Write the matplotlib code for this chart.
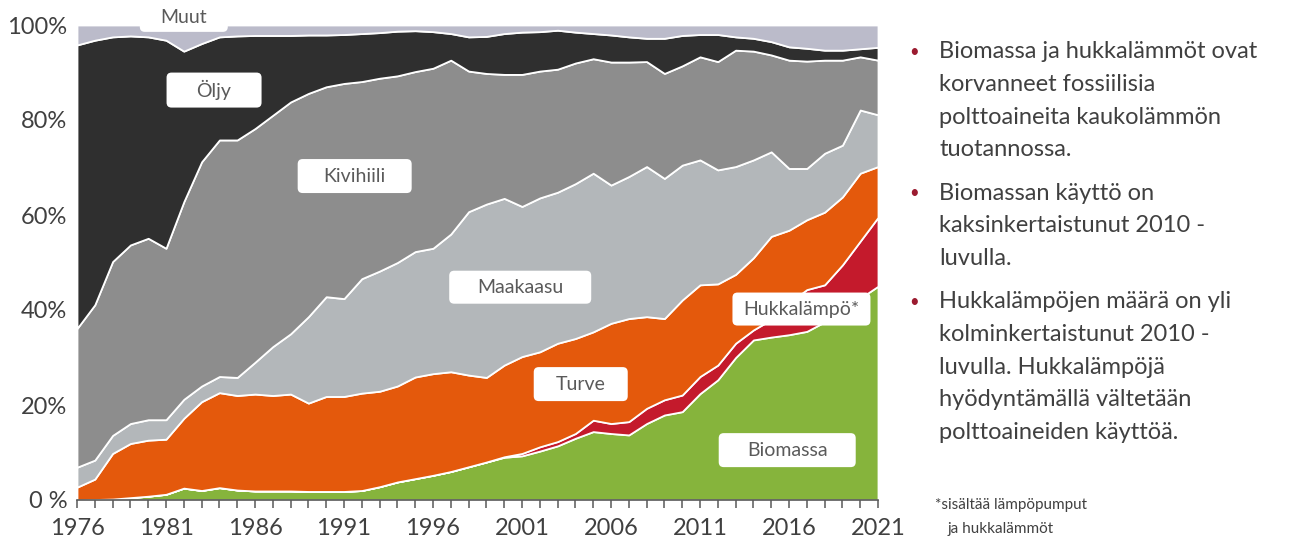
import matplotlib
matplotlib.use("Agg")
import matplotlib.pyplot as plt
from matplotlib.ticker import MultipleLocator, FixedLocator
from matplotlib.patches import FancyBboxPatch
from matplotlib.transforms import IdentityTransform

plt.rcParams['font.family'] = ['Lato', 'DejaVu Sans']

years = list(range(1976, 2022))

# Shares of district heat production by fuel, % (bottom to top of the stack)
biomassa = [0.0, 0.1, 0.2, 0.5, 0.8, 1.2, 2.5, 2.0, 2.6, 2.1,
            1.9, 1.9, 1.9, 1.8, 1.8, 1.8, 2.0, 2.8, 3.8, 4.5,
            5.2, 6.0, 7.0, 8.0, 9.0, 9.3, 10.3, 11.4, 13.0, 14.4,
            14.0, 13.7, 16.1, 17.9, 18.6, 22.4, 25.3, 30.0, 33.7, 34.3,
            34.8, 35.5, 37.5, 40.0, 42.5, 45.0]
hukkalampo = [0.0] * 24 + [0.1, 0.5, 0.9, 0.9, 1.0, 2.4,
              2.1, 2.8, 3.2, 3.2, 3.5, 3.6, 3.1, 3.0, 2.1, 3.7,
              6.7, 8.8, 7.8, 9.5, 12.0, 14.5]
turve = [2.7, 4.3, 9.6, 11.4, 11.8, 11.6, 14.7, 18.7, 20.0, 19.9,
         20.4, 20.1, 20.4, 18.6, 20.0, 20.0, 20.5, 20.1, 20.2, 21.4,
         21.4, 21.0, 19.3, 17.8, 19.3, 20.4, 20.0, 20.7, 20.0, 18.6,
         21.1, 21.7, 19.3, 17.1, 20.0, 19.3, 17.1, 14.5, 15.2, 17.5,
         15.3, 14.7, 15.3, 14.3, 14.3, 10.7]
maakaasu = [4.2, 4.0, 3.8, 4.2, 4.3, 4.1, 4.0, 3.3, 3.4, 3.8,
            6.7, 10.3, 12.7, 18.2, 21.0, 20.6, 24.1, 25.3, 26.0, 26.4,
            26.4, 29.0, 34.4, 36.5, 35.1, 31.6, 32.4, 31.8, 32.6, 33.4,
            29.1, 29.9, 31.6, 29.5, 28.4, 26.3, 24.0, 22.7, 20.6, 17.8,
            13.0, 10.8, 12.4, 10.9, 13.3, 10.9]
kivihiili = [29.2, 32.7, 36.6, 37.6, 38.2, 36.1, 41.6, 47.2, 49.8, 50.0,
             49.2, 48.7, 48.8, 47.0, 44.2, 45.3, 41.5, 40.6, 39.3, 37.9,
             37.9, 36.6, 29.6, 27.5, 26.1, 27.8, 26.7, 25.9, 25.4, 24.1,
             25.9, 24.1, 22.1, 22.1, 20.9, 21.7, 22.8, 24.5, 22.9, 20.4,
             22.8, 22.6, 19.6, 17.9, 11.2, 11.5]
oljy = [59.7, 55.7, 47.3, 44.0, 42.4, 43.8, 31.7, 24.9, 21.7, 21.9,
        19.6, 16.8, 14.0, 12.3, 10.9, 10.3, 10.1, 9.6, 9.4, 8.6,
        7.7, 5.6, 7.2, 7.8, 8.6, 8.9, 8.3, 8.2, 6.5, 5.3,
        5.7, 5.3, 4.9, 7.4, 6.4, 4.7, 5.7, 2.8, 2.7, 2.8,
        2.8, 2.7, 2.1, 2.1, 1.7, 2.7]
muut = [4.2, 3.2, 2.5, 2.3, 2.5, 3.2, 5.5, 3.9, 2.5, 2.3,
        2.2, 2.2, 2.2, 2.1, 2.1, 2.0, 1.8, 1.6, 1.3, 1.2,
        1.4, 1.8, 2.5, 2.4, 1.8, 1.5, 1.4, 1.1, 1.5, 1.8,
        2.1, 2.5, 2.8, 2.8, 2.2, 2.0, 2.0, 2.5, 2.8, 3.5,
        4.6, 4.9, 5.3, 5.3, 5.0, 4.7]

series_names = ["Biomassa", "Hukkalämpö*", "Turve", "Maakaasu",
                "Kivihiili", "Öljy", "Muut"]
series_colors = ["#86b43c", "#c41a2c", "#e4590c", "#b3b7ba",
                 "#8d8d8d", "#2f2f2f", "#bbbbca"]

# Series name tags: anchor (year, %) and tag box size in pixels
label_pos = {
    "Muut": (1982.0, 101.5),
    "Öljy": (1983.7, 86.3),
    "Kivihiili": (1991.6, 68.2),
    "Maakaasu": (2000.9, 44.8),
    "Turve": (2004.3, 24.4),
    "Hukkalämpö*": (2016.7, 40.2),
    "Biomassa": (2015.9, 10.5),
}
tag_size = {
    "Muut": (88, 28),
    "Öljy": (95, 35),
    "Kivihiili": (114, 34),
    "Maakaasu": (142, 33),
    "Turve": (94, 34),
    "Hukkalämpö*": (138, 33),
    "Biomassa": (137, 34),
}

bullets = [
    ["Biomassa ja hukkalämmöt ovat", "korvanneet fossiilisia",
     "polttoaineita kaukolämmön", "tuotannossa."],
    ["Biomassan käyttö on", "kaksinkertaistunut 2010 -", "luvulla."],
    ["Hukkalämpöjen määrä on yli", "kolminkertaistunut 2010 -",
     "luvulla. Hukkalämpöjä", "hyödyntämällä vältetään",
     "polttoaineiden käyttöä."],
]
footnote = ["*sisältää lämpöpumput", "ja hukkalämmöt"]

W, H = 1290, 541
fig = plt.figure(figsize=(W / 100, H / 100), dpi=100)


def fx(px):
    return px / W


def fy(py):
    return 1 - py / H


ax = fig.add_axes([fx(77), fy(500), fx(878) - fx(77), fy(25) - fy(500)])

ax.stackplot(years, biomassa, hukkalampo, turve, maakaasu, kivihiili,
             oljy, muut, colors=series_colors, edgecolor="white",
             linewidth=1.3, labels=series_names)

ax.set_xlim(years[0], years[-1])
ax.set_ylim(0, 100)

for side in ("top", "right", "left"):
    ax.spines[side].set_visible(False)
ax.spines["bottom"].set_color("#595959")
ax.spines["bottom"].set_linewidth(1.2)

ax.xaxis.set_major_locator(FixedLocator(list(range(1976, 2022, 5))))
ax.xaxis.set_minor_locator(MultipleLocator(1))
ax.tick_params(axis="x", which="both", direction="out", length=6,
               width=1.1, color="#595959", labelsize=17,
               labelcolor="#404040", pad=7)
ax.yaxis.set_major_locator(FixedLocator([0, 20, 40, 60, 80, 100]))
ax.set_yticklabels(["0 %", "20%", "40%", "60%", "80%", "100%"])
ax.tick_params(axis="y", length=0, labelsize=17, labelcolor="#404040",
               pad=7)

# White rounded tags with series names, drawn in pixel space
ident = IdentityTransform()
for name, (xv, yv) in label_pos.items():
    cx, cy = ax.transData.transform((xv, yv))
    w, h = tag_size[name]
    tag = FancyBboxPatch((cx - w / 2, cy - h / 2), w, h,
                         boxstyle="round,pad=0,rounding_size=5",
                         transform=ident, fc="white", ec="none", zorder=5)
    fig.add_artist(tag)
    fig.text(cx, cy, name, transform=ident, ha="center", va="center",
             fontsize=14, color="#5a5a5a", zorder=6)

# Bullet points on the right
line_h = 32.6
starts = [52, 193, 302]
for block, y0 in zip(bullets, starts):
    fig.text(fx(914), fy(y0), "•", ha="center", va="center",
             fontsize=12, color="#9b1b30")
    for i, line in enumerate(block):
        fig.text(fx(939), fy(y0 + i * line_h), line, ha="left",
                 va="center", fontsize=17, color="#404040")

fig.text(fx(935), fy(505), footnote[0], ha="left", va="center",
         fontsize=11, color="#404040")
fig.text(fx(948), fy(529), footnote[1], ha="left", va="center",
         fontsize=11, color="#404040")

fig.savefig("out.png", dpi=100, facecolor="white")
